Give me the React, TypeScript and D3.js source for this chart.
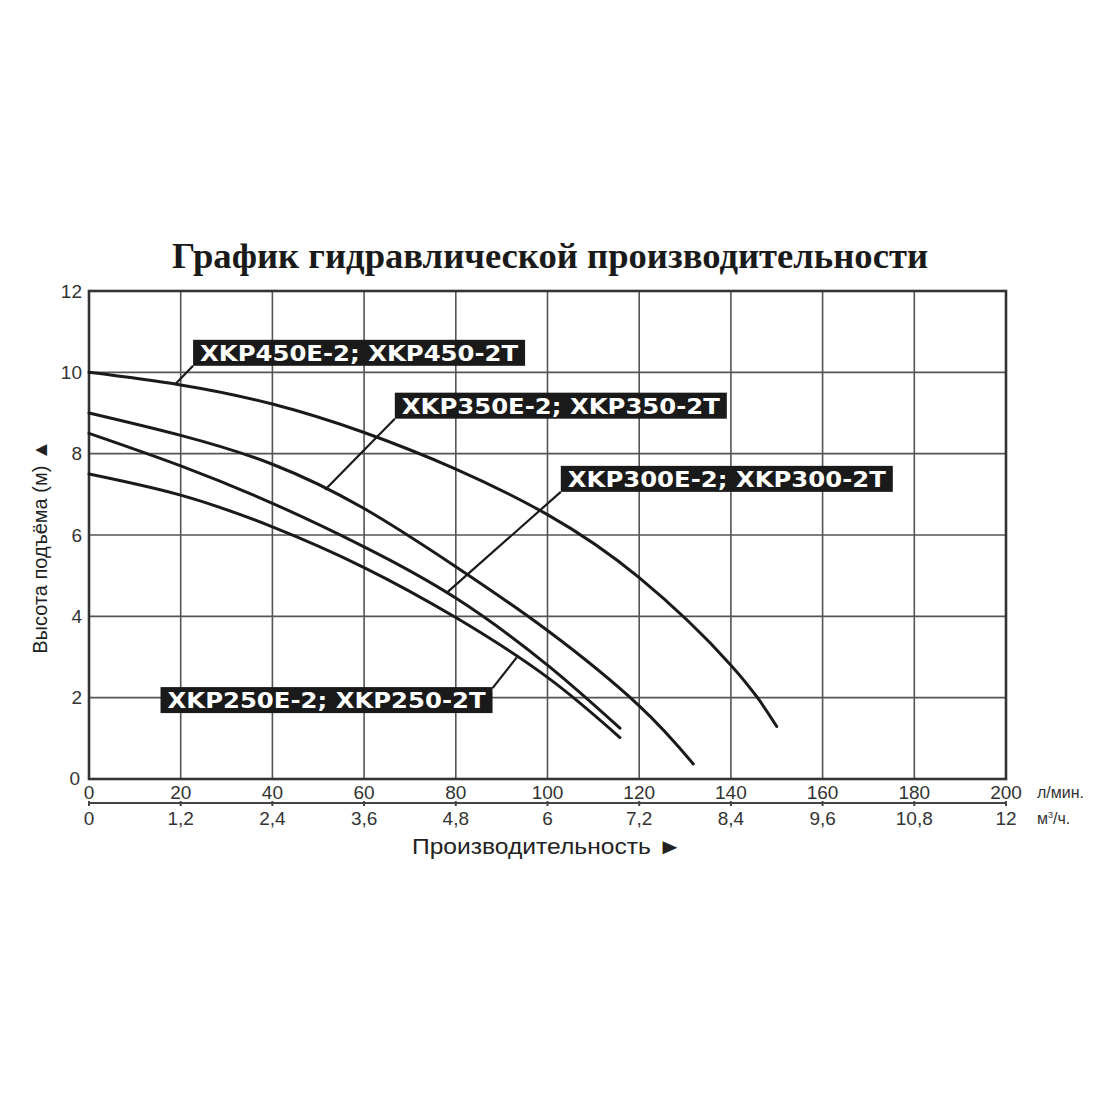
import React from 'react';
import * as d3 from 'd3';

// performance curves, flow in l/min, head in m
const xkp450Q = [0, 20, 40, 60, 80, 100, 120, 140, 150];
const xkp450H = [10, 9.69, 9.22, 8.52, 7.62, 6.5, 4.95, 2.8, 1.29];
const xkp350Q = [0, 20, 40, 60, 80, 100, 120, 131.8];
const xkp350H = [9, 8.45, 7.74, 6.65, 5.22, 3.65, 1.8, 0.37];
const xkp300Q = [0, 20, 40, 60, 80, 100, 115.8];
const xkp300H = [8.5, 7.7, 6.78, 5.71, 4.45, 2.8, 1.25];
const xkp250Q = [0, 20, 40, 60, 80, 100, 115.8];
const xkp250H = [7.5, 6.98, 6.2, 5.2, 3.97, 2.5, 1.02];

const lpmTicks = [0, 20, 40, 60, 80, 100, 120, 140, 160, 180, 200];
const m3hTicks = [0, 1.2, 2.4, 3.6, 4.8, 6, 7.2, 8.4, 9.6, 10.8, 12];
const headTicks = [0, 2, 4, 6, 8, 10, 12];

const labels = [
  'XKP450E-2; XKP450-2T',
  'XKP350E-2; XKP350-2T',
  'XKP300E-2; XKP300-2T',
  'XKP250E-2; XKP250-2T',
];
// label box (left q, top h) and leader target on curve (q)
const labelBoxQ = [22.7, 66.7, 102.9, 15.6];
const labelBoxH = [10.8, 9.5, 7.7, 2.26];
const leaderQ = [18.8, 51.5, 78, 93.3];

const W = 1100;
const H = 1100;
const left = 89;
const right = 1006;
const top = 291;
const bottom = 779;

const x = d3.scaleLinear().domain([0, 200]).range([left, right]);
const x2 = d3.scaleLinear().domain([0, 12]).range([left, right]);
const y = d3.scaleLinear().domain([0, 12]).range([bottom, top]);

const series = [
  [xkp450Q, xkp450H],
  [xkp350Q, xkp350H],
  [xkp300Q, xkp300H],
  [xkp250Q, xkp250H],
];

const line = d3
  .line<[number, number]>()
  .x(d => x(d[0]))
  .y(d => y(d[1]))
  .curve(d3.curveNatural);

const headAt = (qs: number[], hs: number[], q: number) =>
  d3.scaleLinear().domain(qs).range(hs)(q);

const fmt = (v: number) => String(v).replace('.', ',');

export default function App() {
  const sans = 'Liberation Sans, Arial, sans-serif';
  return (
    <svg
      width={W}
      height={H}
      style={{ position: 'absolute', left: 0, top: 0, display: 'block', background: '#fff' }}
    >
      <rect width={W} height={H} fill="#fff" />
      <text
        x={550}
        y={268}
        textAnchor="middle"
        fontFamily="Liberation Serif, Times New Roman, serif"
        fontWeight="bold"
        fontSize={36}
        fill="#1a1a1a"
        textLength={756}
        lengthAdjust="spacingAndGlyphs"
      >
        График гидравлической производительности
      </text>

      {/* grid */}
      {lpmTicks.slice(1, -1).map(t => (
        <line key={'gx' + t} x1={x(t)} x2={x(t)} y1={top} y2={bottom} stroke="#555" strokeWidth={1.6} />
      ))}
      {headTicks.slice(1, -1).map(t => (
        <line key={'gy' + t} x1={left} x2={right} y1={y(t)} y2={y(t)} stroke="#555" strokeWidth={1.6} />
      ))}
      <rect x={left} y={top} width={right - left} height={bottom - top} fill="none" stroke="#333" strokeWidth={2.6} />

      {/* y ticks */}
      {headTicks.map(t => (
        <text
          key={'ty' + t}
          x={t === 0 ? 80 : 82}
          y={t === 0 ? y(t) - 1 : y(t)}
          dy="0.35em"
          textAnchor="end"
          fontFamily={sans}
          fontSize={19}
          fill="#333"
        >
          {t}
        </text>
      ))}

      {/* x ticks l/min */}
      {lpmTicks.map(t => (
        <text key={'tx' + t} x={x(t)} y={792} dy="0.35em" textAnchor="middle" fontFamily={sans} fontSize={19} fill="#333">
          {t}
        </text>
      ))}
      <text x={1037} y={792} dy="0.35em" fontFamily={sans} fontSize={16} fill="#333">
        л/мин.
      </text>

      {/* second axis m3/h */}
      <line x1={left} x2={right} y1={803} y2={803} stroke="#444" strokeWidth={2} />
      {m3hTicks.map(t => (
        <line key={'t2' + t} x1={x2(t)} x2={x2(t)} y1={801} y2={806} stroke="#444" strokeWidth={2} />
      ))}
      {m3hTicks.map(t => (
        <text key={'tx2' + t} x={x2(t)} y={818} dy="0.35em" textAnchor="middle" fontFamily={sans} fontSize={19} fill="#333">
          {fmt(t)}
        </text>
      ))}
      <text x={1037} y={818} dy="0.35em" fontFamily={sans} fontSize={16} fill="#333">
        м<tspan dy="-6" fontSize={9}>3</tspan>
        <tspan dy="6">/ч.</tspan>
      </text>

      {/* axis titles */}
      <text
        x={547}
        y={846}
        dy="0.35em"
        textAnchor="middle"
        fontFamily={sans}
        fontSize={22}
        fill="#222"
        textLength={270}
        lengthAdjust="spacingAndGlyphs"
      >
        Производительность ►
      </text>
      <text
        transform={`translate(40,${547}) rotate(-90)`}
        dy="0.35em"
        textAnchor="middle"
        fontFamily={sans}
        fontSize={20}
        fill="#222"
      >
        Высота подъёма (м) ▲
      </text>

      {/* curves */}
      {series.map(([qs, hs], i) => (
        <path
          key={'c' + i}
          d={line(qs.map((q, j) => [q, hs[j]] as [number, number])) || ''}
          fill="none"
          stroke="#1a1a1a"
          strokeWidth={3}
          strokeLinecap="round"
        />
      ))}

      {/* labels with leaders */}
      {labels.map((lab, i) => {
        const [qs, hs] = series[i];
        const bx = x(labelBoxQ[i]);
        const by = y(labelBoxH[i]);
        const bw = 332;
        const bh = 26;
        const tx = x(leaderQ[i]);
        const ty = y(headAt(qs, hs, leaderQ[i]));
        const lx = i === 3 ? bx + bw : bx;
        const ly = i === 3 ? by + 1 : by + bh;
        return (
          <g key={'l' + i}>
            <line x1={lx} y1={ly} x2={tx} y2={ty} stroke="#1a1a1a" strokeWidth={2.2} />
            <rect x={bx} y={by} width={bw} height={bh} fill="#1a1a1a" />
            <text
              x={bx + 7}
              y={by + bh / 2}
              dy="0.36em"
              fontFamily="DejaVu Sans, Verdana, sans-serif"
              fontWeight="bold"
              fontSize={22}
              fill="#fff"
              textLength={318}
              lengthAdjust="spacingAndGlyphs"
            >
              {lab}
            </text>
          </g>
        );
      })}
    </svg>
  );
}
